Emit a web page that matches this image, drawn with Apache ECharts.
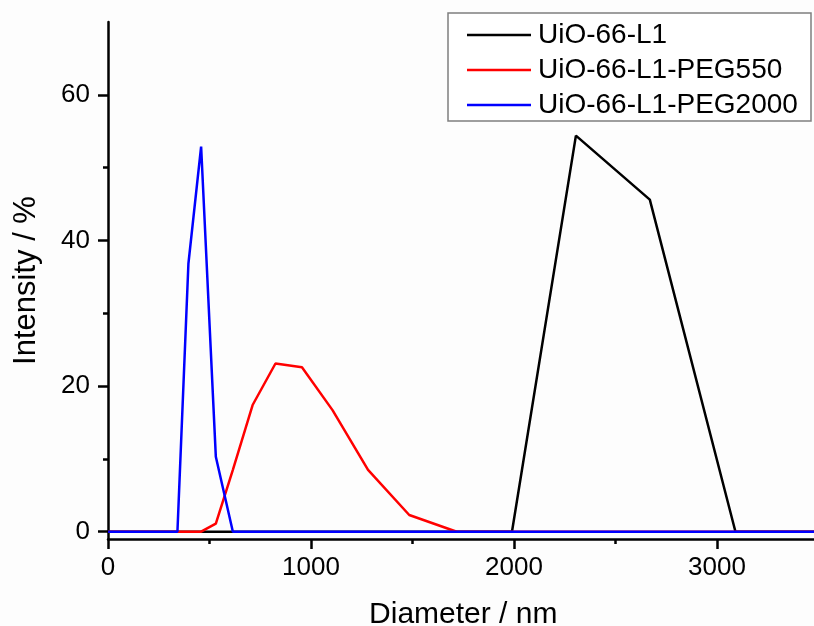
<!DOCTYPE html>
<html>
<head>
<meta charset="utf-8">
<script src="https://cdn.jsdelivr.net/npm/echarts@6/dist/echarts.min.js"></script>
<style>
  html, body { margin: 0; padding: 0; background: #fdfdfd; overflow: hidden; }
  #chart { width: 814px; height: 626px; }
</style>
</head>
<body>
<div id="chart"></div>
<script>
// DLS size bins (nm) and intensity distributions (%)
const diameters = [0.4, 255.0, 295.3, 342.0, 396.1, 458.7, 531.2, 615.1, 712.4, 825.0, 955.4, 1106, 1281, 1484, 1718, 1990, 2305, 2669, 3091, 3580, 10000];
const uio66L1 =        [0, 0, 0, 0, 0,    0,    0,    0,   0,    0,    0,    0,    0,   0,   0, 0, 54.4, 45.6, 0, 0, 0];
const uio66L1Peg550 =  [0, 0, 0, 0, 0,    0,    1.1,  8.5, 17.4, 23.1, 22.6, 16.7, 8.5, 2.3, 0, 0, 0,    0,    0, 0, 0];
const uio66L1Peg2000 = [0, 0, 0, 0, 36.8, 52.9, 10.3, 0,   0,    0,    0,    0,    0,   0,   0, 0, 0,    0,    0, 0, 0];

const seriesNames = ['UiO-66-L1', 'UiO-66-L1-PEG550', 'UiO-66-L1-PEG2000'];
const seriesColors = ['#000000', '#ff0000', '#0000ff'];
const seriesValues = [uio66L1, uio66L1Peg550, uio66L1Peg2000];

const xTickLabels = [0, 1000, 2000, 3000];
const yMajorTicks = [0, 20, 40, 60];
const yMinorTicks = [10, 30, 50];

const FONT = '"Liberation Sans", Arial, sans-serif';

const chart = echarts.init(document.getElementById('chart'), null, { width: 814, height: 626 });

chart.setOption({
  animation: false,
  backgroundColor: '#fdfdfd',
  grid: { left: 108, top: 22, width: 710.5, height: 517, containLabel: false, outerBoundsMode: 'none' },
  graphic: [{
    type: 'rect',
    z: 1,
    shape: { x: 448, y: 13, width: 363, height: 108 },
    style: { fill: '#ffffff', stroke: '#7f7f7f', lineWidth: 1.5 }
  }],
  legend: {
    z: 5,
    orient: 'vertical',
    left: 467,
    top: 20,
    padding: 0,
    itemGap: 5,
    itemWidth: 64,
    itemHeight: 2.5,
    icon: 'rect',
    data: seriesNames,
    textStyle: { fontFamily: FONT, fontSize: 28, color: '#000', lineHeight: 30, padding: [0, 0, 0, 2] }
  },
  xAxis: {
    type: 'value',
    min: 0,
    max: 3500,
    interval: 1000,
    name: 'Diameter / nm',
    nameLocation: 'middle',
    nameGap: 61,
    nameTextStyle: { fontFamily: FONT, fontSize: 30, color: '#000' },
    axisLine: { onZero: false, lineStyle: { color: '#000', width: 2.5 } },
    axisTick: { inside: false, length: 10, lineStyle: { color: '#000', width: 2.5 } },
    minorTick: { show: true, splitNumber: 2, length: 5, lineStyle: { color: '#000', width: 2.5 } },
    axisLabel: {
      margin: 16, fontFamily: FONT, fontSize: 26, color: '#000',
      customValues: xTickLabels,
      formatter: v => String(v)
    },
    splitLine: { show: false }
  },
  yAxis: [{
    type: 'value',
    min: -1,
    max: 70,
    name: 'Intensity / %',
    nameLocation: 'middle',
    nameGap: 66,
    nameRotate: 90,
    nameTextStyle: { fontFamily: FONT, fontSize: 31, color: '#000' },
    axisLine: { show: true, lineStyle: { color: '#000', width: 2.5 } },
    axisTick: { show: true, inside: false, length: 10, customValues: yMajorTicks, lineStyle: { color: '#000', width: 2.5 } },
    axisLabel: { margin: 18, fontFamily: FONT, fontSize: 26, color: '#000', customValues: yMajorTicks },
    splitLine: { show: false }
  }, {
    type: 'value',
    position: 'left',
    min: -1,
    max: 70,
    axisLine: { show: false },
    axisTick: { show: true, inside: false, length: 5, customValues: yMinorTicks, lineStyle: { color: '#000', width: 2.5 } },
    axisLabel: { show: false },
    splitLine: { show: false }
  }],
  series: seriesNames.map((name, i) => ({
    name: name,
    type: 'line',
    yAxisIndex: 0,
    showSymbol: false,
    symbol: 'none',
    clip: true,
    color: seriesColors[i],
    lineStyle: { color: seriesColors[i], width: 2.5 },
    data: diameters.map((d, j) => [d, seriesValues[i][j]])
  }))
});
</script>
</body>
</html>
